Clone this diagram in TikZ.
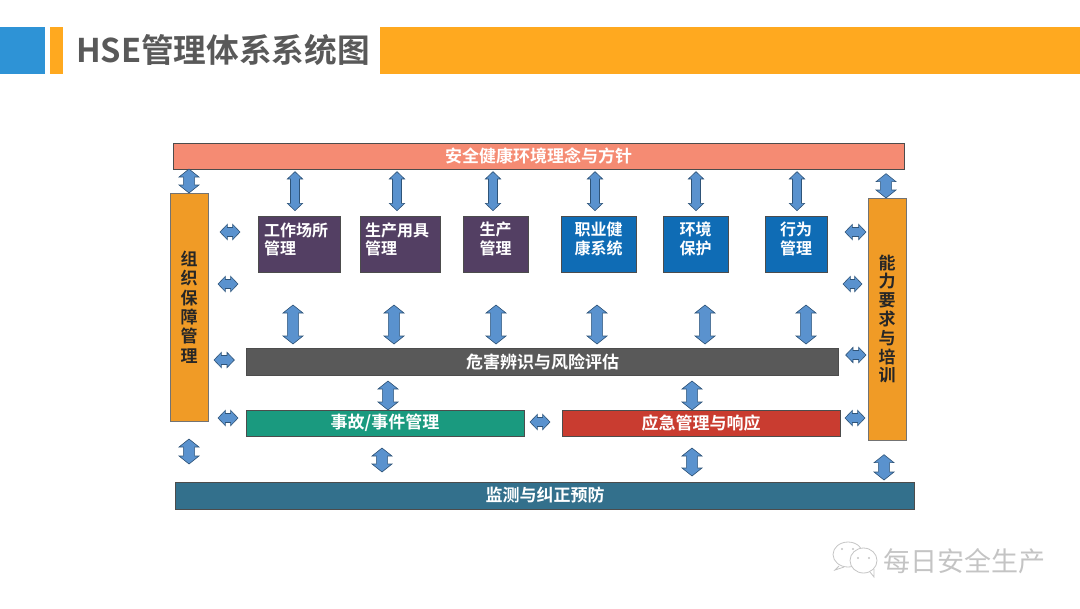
\documentclass[tikz,border=0pt]{standalone}
\usepackage{fontspec}
\setmainfont{Noto Sans CJK SC}[BoldFont={Noto Sans CJK SC Bold}]
\usetikzlibrary{calc}
\definecolor{hseblue}{HTML}{2E93D6}
\definecolor{hseorange}{HTML}{FFA91F}
\definecolor{hsegray}{HTML}{595959}
\definecolor{hsesalmon}{HTML}{F58B73}
\definecolor{hsepillar}{HTML}{F09B26}
\definecolor{hsepurple}{HTML}{533F63}
\definecolor{hsebox}{HTML}{0F6CB5}
\definecolor{hsegreen}{HTML}{1A9A7F}
\definecolor{hsered}{HTML}{C93C30}
\definecolor{hseteal}{HTML}{33708C}
\definecolor{hselink}{HTML}{5A92CE}
\definecolor{hseedge}{HTML}{2F5478}
\definecolor{hsemark}{HTML}{C4C4C4}
\begin{document}
\begin{tikzpicture}[x=.75pt, y=-.75pt,
    band/.style={draw=black!70, line width=.6pt, inner sep=0pt, outer sep=0pt, text=white,
        font=\fontsize{12.75}{15}\selectfont\bfseries},
    pillar/.style={draw=black!55, fill=hsepillar, line width=.6pt, inner sep=0pt, outer sep=0pt,
        minimum width=28.5pt, align=center, text=black!85,
        font=\fontsize{12.75}{14.6}\selectfont\bfseries},
    unit/.style={draw=black!70, line width=.5pt, inner sep=0pt, outer sep=0pt, minimum height=42pt,
        text depth=8.5pt, text=white, font=\fontsize{12}{14}\selectfont\bfseries},
    longunit/.style={unit, text depth=22pt, text width=52.5pt, align=left},
    linkgap/.code 2 args={\def\gapa{#1}\def\gapb{#2}},
    blocklink/.style={fill=hselink, draw=hseedge, line width=.45pt, to path={
        let \p1=($(\tikztostart)!\gapa!(\tikztotarget)$), \p2=($(\tikztotarget)!\gapb!(\tikztostart)$) in
        (\p1) -- ($(\p1)!\hl!(\p2)!\hw!90:(\p2)$) -- ($(\p1)!\hl!(\p2)!\sw!90:(\p2)$)
        -- ($(\p2)!\hl!(\p1)!\sw!-90:(\p1)$) -- ($(\p2)!\hl!(\p1)!\hw!-90:(\p1)$)
        -- (\p2) -- ($(\p2)!\hl!(\p1)!\hw!90:(\p1)$) -- ($(\p2)!\hl!(\p1)!\sw!90:(\p1)$)
        -- ($(\p1)!\hl!(\p2)!\sw!-90:(\p2)$) -- ($(\p1)!\hl!(\p2)!\hw!-90:(\p2)$) -- cycle}},
    slimlink/.style={blocklink, /utils/exec={\def\hl{5.5pt}\def\hw{5.75pt}\def\sw{3.4pt}}},
    widelink/.style={blocklink, /utils/exec={\def\hl{6pt}\def\hw{7.5pt}\def\sw{4.2pt}}}]
    \useasboundingbox (0,0) rectangle (1080,608);

    % Title bar
    \fill[hseblue] (0,27) rectangle (45,74);
    \fill[hseorange] (50,27) rectangle (63,74);
    \fill[hseorange] (380,27) rectangle (1080,74);
    \node[text=hsegray, font=\fontsize{24.5}{28}\selectfont\bfseries, inner sep=0pt] (title) at (223,50) {HSE管理体系系统图};

    % Horizontal bands
    \node[band, fill=hsesalmon, minimum width=548.25pt, minimum height=19.5pt] (policy) at (538.5,156) {安全健康环境理念与方针};
    \node[band, fill=hsegray, minimum width=444.25pt, minimum height=20.25pt] (hazard) at (542.5,361.5) {危害辨识与风险评估};
    \node[band, fill=hsegreen, minimum width=208.5pt, minimum height=19.5pt] (incident) at (385,423) {事故/事件管理};
    \node[band, fill=hsered, minimum width=208.5pt, minimum height=19.5pt] (response) at (701,423) {应急管理与响应};
    \node[band, fill=hseteal, minimum width=554.5pt, minimum height=20.25pt] (monitor) at (545,495.5) {监测与纠正预防};

    % Side pillars
    \node[pillar, minimum height=171pt] (organize) at (189,307) {组\\织\\保\\障\\管\\理};
    \node[pillar, minimum height=181.5pt, font=\fontsize{12.75}{14.1}\selectfont\bfseries] (training) at (887,319) {能\\力\\要\\求\\与\\培\\训};

    % Management units
    \node[longunit, fill=hsepurple, minimum width=61.5pt] (workplace) at (299,244) {工作场所\\管理};
    \node[longunit, fill=hsepurple, minimum width=60pt] (equipment) at (400,244) {生产用具\\管理};
    \node[unit, fill=hsepurple, minimum width=48.75pt, align=center] (production) at (495.5,244) {生产\\管理};
    \node[unit, fill=hsebox, minimum width=56.25pt, align=center] (health) at (598.5,244) {职业健\\康系统};
    \node[unit, fill=hsebox, minimum width=48.75pt, align=center] (environment) at (695.5,244) {环境\\保护};
    \node[unit, fill=hsebox, minimum width=46.5pt, align=center] (behavior) at (796,244) {行为\\管理};

    % Policy to units
    \draw[slimlink, linkgap={2pt}{4pt}] (policy.south -| 295,0) to (workplace.north -| 295,0);
    \draw[slimlink, linkgap={2pt}{4pt}] (policy.south -| 397,0) to (equipment.north -| 397,0);
    \draw[slimlink, linkgap={2pt}{4pt}] (policy.south -| 493,0) to (production.north -| 493,0);
    \draw[slimlink, linkgap={2pt}{4pt}] (policy.south -| 595,0) to (health.north -| 595,0);
    \draw[slimlink, linkgap={2pt}{4pt}] (policy.south -| 696,0) to (environment.north -| 696,0);
    \draw[slimlink, linkgap={2pt}{4pt}] (policy.south -| 797,0) to (behavior.north -| 797,0);

    % Units to hazard band
    \draw[widelink, linkgap={24.75pt}{3pt}] (workplace.south -| 293,0) to (hazard.north -| 293,0);
    \draw[widelink, linkgap={24.75pt}{3pt}] (equipment.south -| 394,0) to (hazard.north -| 394,0);
    \draw[widelink, linkgap={24.75pt}{3pt}] (production.south -| 496,0) to (hazard.north -| 496,0);
    \draw[widelink, linkgap={24.75pt}{3pt}] (health.south -| 597,0) to (hazard.north -| 597,0);
    \draw[widelink, linkgap={24.75pt}{3pt}] (environment.south -| 705,0) to (hazard.north -| 705,0);
    \draw[widelink, linkgap={24.75pt}{3pt}] (behavior.south -| 806,0) to (hazard.north -| 806,0);

    % Pillars to the top and bottom bands
    \draw[widelink, linkgap={0pt}{0pt}] (policy.south -| 189,0) to (organize.north);
    \draw[widelink, linkgap={3.5pt}{0pt}] (policy.south -| 886,0) to (training.north -| 886,0);
    \draw[widelink, linkgap={13.5pt}{13.5pt}] (organize.south) to (monitor.north -| 189,0);
    \draw[widelink, linkgap={11pt}{1.5pt}] (training.south -| 884,0) to (monitor.north -| 884,0);

    % Pillar on the left to the middle
    \draw[slimlink, linkgap={9pt}{13.5pt}] (organize.east |- 0,232) to (workplace.west |- 0,232);
    \draw[slimlink, linkgap={7.5pt}{15pt}] (organize.east |- 0,284) to (workplace.south west |- 0,284);
    \draw[slimlink, linkgap={4.5pt}{9pt}] (organize.east |- 0,360) to (hazard.west |- 0,360);
    \draw[slimlink, linkgap={7.5pt}{6pt}] (organize.east |- 0,418) to (incident.west |- 0,418);

    % Middle to the pillar on the right
    \draw[slimlink, linkgap={13.5pt}{1.5pt}] (behavior.east |- 0,232) to (training.west |- 0,232);
    \draw[slimlink, linkgap={12pt}{4.5pt}] (behavior.south east |- 0,284) to (training.west |- 0,284);
    \draw[slimlink, linkgap={5.25pt}{1.5pt}] (hazard.east |- 0,355) to (training.west |- 0,355);
    \draw[slimlink, linkgap={3.75pt}{2.25pt}] (response.east |- 0,418) to (training.west |- 0,418);

    % Hazard band, incident and response, monitoring
    \draw[widelink, linkgap={4.5pt}{0pt}] (hazard.south -| 388,0) to (incident.north -| 388,0);
    \draw[widelink, linkgap={4.5pt}{0pt}] (hazard.south -| 692,0) to (response.north -| 692,0);
    \draw[slimlink, linkgap={4.5pt}{9pt}] (incident.east |- 0,422) to (response.west |- 0,422);
    \draw[widelink, linkgap={9pt}{7.5pt}] (incident.south -| 382,0) to (monitor.north -| 382,0);
    \draw[widelink, linkgap={9pt}{4.5pt}] (response.south -| 692,0) to (monitor.north -| 692,0);

    % Watermark
    \begin{scope}[draw=hsemark, line width=.6pt]
        \draw (848,554.5) ellipse [x radius=15, y radius=12.5];
        \draw (839,566) -- (835,570) -- (844,567);
        \draw[fill=white] (863.5,560.5) ellipse [x radius=13.5, y radius=12.5];
        \draw (870,572) -- (874,577) -- (874,569);
    \end{scope}
    \fill[hsemark] (842,549) circle (1.2) (853,549) circle (1.2) (858,558) circle (1.2) (869,558) circle (1.2);
    \node[text=hsemark, font=\fontsize{20.25}{24}\selectfont, inner sep=0pt] (brand) at (964,561) {每日安全生产};
\end{tikzpicture}
\end{document}
